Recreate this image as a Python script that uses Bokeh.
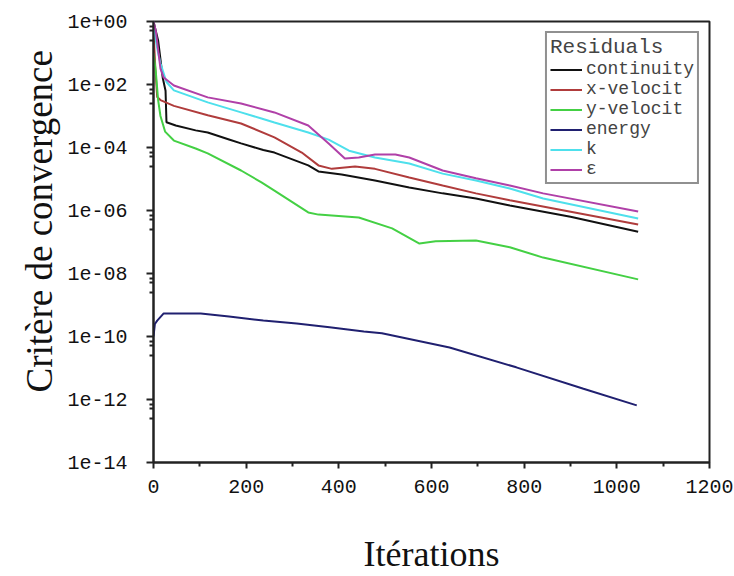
from bokeh.plotting import figure
from bokeh.models import FixedTicker, CustomJSTickFormatter, Legend, LegendItem, Title
from bokeh.embed import file_html
from bokeh.resources import INLINE

# ---- data ----
it_cont = [0, 10, 20, 26, 28, 48, 91, 117, 163, 189, 237, 261, 334, 356, 406, 478, 552, 624, 696, 769, 900, 1046]
continuity = [1.0, 2.5e-1, 1.6e-2, 6.3e-3, 6.3e-4, 5.0e-4, 3.5e-4, 3.0e-4, 1.8e-4, 1.35e-4, 8.3e-5, 6.9e-5,
              2.7e-5, 1.74e-5, 1.38e-5, 8.9e-6, 5.4e-6, 3.5e-6, 2.4e-6, 1.45e-6, 6.3e-7, 2.1e-7]

it_xvel = [0, 4, 8, 15, 44, 117, 189, 261, 320, 356, 385, 435, 478, 552, 624, 696, 769, 1046]
x_velocity = [5e-1, 3.2e-2, 4.0e-3, 3.2e-3, 2.1e-3, 1.05e-3, 5.8e-4, 2.1e-4, 6.9e-5, 2.7e-5, 2.1e-5, 2.5e-5,
              2.1e-5, 1.12e-5, 6.2e-6, 3.5e-6, 2.1e-6, 3.6e-7]

it_yvel = [0, 5, 10, 15, 25, 44, 91, 117, 189, 233, 261, 334, 356, 443, 515, 574, 609, 696, 769, 841, 1046]
y_velocity = [1e-1, 2.5e-2, 3.2e-3, 1e-3, 3.2e-4, 1.66e-4, 9.3e-5, 6.5e-5, 1.86e-5, 7.8e-6, 4.3e-6, 8.7e-7,
              7.4e-7, 6.0e-7, 2.7e-7, 8.9e-8, 1.05e-7, 1.12e-7, 6.8e-8, 3.2e-8, 6.5e-9]

it_energy = [0, 3, 8, 22, 102, 163, 237, 309, 380, 454, 493, 639, 783, 928, 1043]
energy = [1e-10, 2.5e-10, 3.2e-10, 5.4e-10, 5.4e-10, 4.3e-10, 3.2e-10, 2.6e-10, 1.95e-10, 1.45e-10, 1.26e-10,
          4.5e-11, 1.05e-11, 2.2e-12, 6.5e-13]

it_k = [0, 5, 10, 15, 28, 44, 117, 189, 233, 261, 334, 378, 422, 478, 552, 624, 696, 769, 841, 1046]
k_res = [1.0, 2.5e-1, 1e-1, 4.7e-2, 1.2e-2, 6.5e-3, 2.7e-3, 1.3e-3, 8.3e-4, 6.2e-4, 3.0e-4, 1.78e-4, 7.9e-5,
         4.8e-5, 3.1e-5, 1.48e-5, 8.9e-6, 5.0e-6, 2.4e-6, 5.6e-7]

it_eps = [0, 5, 10, 15, 22, 44, 117, 189, 261, 334, 378, 413, 443, 478, 522, 552, 624, 696, 769, 841, 1046]
epsilon = [1.0, 5e-1, 1.26e-1, 3.2e-2, 1.66e-2, 9.3e-3, 3.9e-3, 2.5e-3, 1.3e-3, 5.0e-4, 1.35e-4, 4.5e-5, 4.8e-5,
           6.0e-5, 6.0e-5, 4.8e-5, 1.86e-5, 1.05e-5, 6.2e-6, 3.5e-6, 9.3e-7]

series_names = ["continuity", "x-velocit", "y-velocit", "energy", "k", "\u03b5"]
series_colors = ["#111111", "#b03c3c", "#44d044", "#202070", "#4ee0ec", "#b040a8"]
x_ticks = [0, 200, 400, 600, 800, 1000, 1200]
y_ticks = [1e0, 1e-2, 1e-4, 1e-6, 1e-8, 1e-10, 1e-12, 1e-14]

p = figure(width=734, height=576, y_axis_type="log", x_range=(0, 1200), y_range=(1e-14, 1e0),
           output_backend="svg", toolbar_location=None,
           min_border_left=153, min_border_right=25, min_border_top=21, min_border_bottom=113)
p.background_fill_color = "white"
p.border_fill_color = "white"
p.outline_line_color = "#222222"
p.outline_line_width = 2
p.xgrid.visible = False
p.ygrid.visible = False

data = [(it_cont, continuity), (it_xvel, x_velocity), (it_yvel, y_velocity),
        (it_energy, energy), (it_k, k_res), (it_eps, epsilon)]
renderers = []
for (xs, ys), c in zip(data, series_colors):
    r = p.line(xs, ys, line_color=c, line_width=2)
    renderers.append(r)

# axes
minor_y = []
for t in y_ticks[:-1]:
    for m in (0.7, 0.5, 0.25):
        minor_y.append(t * m)
p.yaxis.ticker = FixedTicker(ticks=y_ticks, minor_ticks=minor_y)
p.yaxis.formatter = CustomJSTickFormatter(code="""
const e = Math.round(Math.log10(tick));
const a = Math.abs(e);
return "1e" + (e < 0 ? "-" : "+") + (a < 10 ? "0" + a : "" + a);
""")
p.xaxis.ticker = FixedTicker(ticks=x_ticks, minor_ticks=[100, 300, 500, 700, 900, 1100])

for ax in (p.xaxis[0], p.yaxis[0]):
    ax.axis_line_color = "#222222"
    ax.axis_line_width = 2
    ax.major_tick_line_color = "#222222"
    ax.major_tick_line_width = 2
    ax.minor_tick_line_color = "#222222"
    ax.minor_tick_line_width = 2
    ax.major_tick_in = 0
    ax.minor_tick_in = 0
    ax.major_label_text_font = "Liberation Mono"
    ax.major_label_text_font_size = "20px"
    ax.major_label_text_color = "#111111"
    ax.axis_label_text_font = "Liberation Serif"
    ax.axis_label_text_font_style = "normal"
    ax.axis_label_text_color = "#111111"

p.yaxis.major_tick_out = 7
p.yaxis.minor_tick_out = 4
p.yaxis.major_label_standoff = 19

ytitle = Title(text="Crit\u00e8re de convergence", align="left", offset=70,
               text_font="Liberation Serif", text_font_size="37px", text_font_style="normal",
               text_color="#111111")
p.add_layout(ytitle, "left")

p.xaxis.major_tick_out = 6
p.xaxis.minor_tick_out = 4
p.xaxis.major_label_standoff = 11
p.xaxis.axis_label = "It\u00e9rations"
p.xaxis.axis_label_text_font_size = "36px"
p.xaxis.axis_label_standoff = 38

items = [LegendItem(label=n, renderers=[r]) for n, r in zip(series_names, renderers)]
legend = Legend(items=items, location="top_right", title="Residuals",
                title_text_font="Liberation Mono", title_text_font_size="21px", title_text_font_style="normal",
                title_standoff=-8,
                label_text_font="Liberation Mono", label_text_font_size="18px",
                glyph_width=32, glyph_height=17, label_height=17, label_standoff=4,
                spacing=0, padding=3, margin=10,
                border_line_color="#222222", border_line_width=2,
                background_fill_color="white", background_fill_alpha=1.0)
p.add_layout(legend)

open("out.html", "w").write(file_html(p, INLINE))
